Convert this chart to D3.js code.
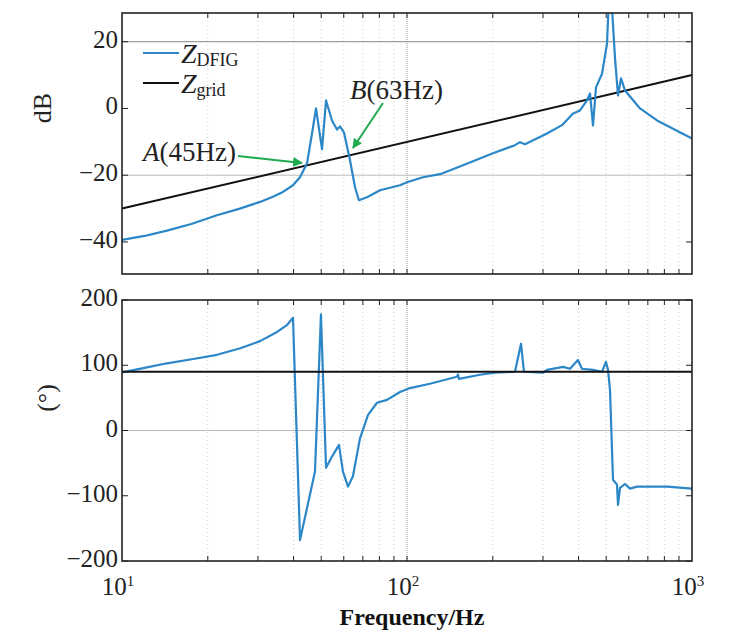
<!DOCTYPE html>
<html>
<head>
<meta charset="utf-8">
<script src="https://cdn.jsdelivr.net/npm/d3@7"></script>
<style>
  body { margin: 0; background: #fff; }
  svg { font-family: "Liberation Serif", "DejaVu Serif", serif; }
</style>
</head>
<body>
<svg width="748" height="641"></svg>
<script>
// частоты и амплитуда Z_DFIG (дБ)
const freqMag = [10, 12, 14.38, 17.5, 21.54, 25.9, 30.5, 34, 36.7, 39.8, 42.13, 44.6, 46.42, 47.94, 50.33, 51.99,
  54.56, 56.8, 58.2, 60.1, 63.1, 65.7, 67.8, 72.4, 80.4, 94.5, 100, 113.8, 130.6, 157.2, 200.3,
  239.3, 249.2, 259.4, 309.8, 349.9, 382.4, 404.6, 428, 438.7, 449.4, 460.4, 483.4, 503.2,
  515.6, 536.9, 550, 563.5, 582, 657, 754, 1000];
const magDFIG = [-39.4, -38.2, -36.6, -34.6, -32, -30, -28, -26.4, -25, -23, -20.6, -16.4, -7.5, 0, -12.2, 2.4,
  -3.6, -6.3, -5.4, -7.2, -15.5, -23.6, -27.5, -26.6, -24.5, -23, -22.1, -20.6, -19.7, -17, -13.4,
  -11, -10.1, -10.7, -7.5, -5, -1.5, -0.6, 2.4, 4.5, -5.1, 6.3, 10.4, 19.4,
  40, 15, 3.9, 9, 5.4, 0, -3.6, -9];

// частоты и фаза Z_DFIG (градусы)
const freqPhase = [10, 12, 14.38, 18, 21.54, 26, 30.5, 35, 38, 39.81, 42.13, 47.55, 49.9, 51.99, 54.56, 57.72,
  59.6, 62.1, 64.6, 68.4, 73.0, 78.5, 85.1, 94.5, 102.4, 120.4, 149.7, 151, 152.2, 180.4, 203.6,
  239.3, 251.2, 257.3, 300, 309.8, 352.7, 373.3, 398, 411, 449.4, 483.4, 499, 507.4, 515.6, 528.2,
  545.6, 550, 559, 582, 606, 641, 817, 1000];
const phaseDFIG = [89, 96, 103, 110, 116, 126, 137, 151, 162, 172.7, -168, -63, 178, -57, -40, -22,
  -63, -86, -70, -12, 24, 42.5, 47, 59, 65, 71.6, 82.3, 86, 79, 85.4, 88.5,
  90, 133, 90, 88.5, 93, 97.6, 94.6, 108, 94.6, 93, 90, 105, 93, 62, -75.5,
  -83, -114, -88, -82, -89, -86, -86, -89];

// Z_grid
const freqGrid = [10, 1000];
const magGrid = [-30, 10];
const phaseGrid = [90, 90];

const magTicks = [20, 0, -20, -40];
const phaseTicks = [200, 100, 0, -100, -200];
const decadeTicks = [10, 100, 1000];

const svg = d3.select("svg");
const blue = "#2b87c8", green = "#1faa50";
const x0 = 122, x1 = 692;

const scX = d3.scaleLog().domain([10, 1000]).range([x0, x1]);
const scMag = d3.scaleLinear().domain([-49.6, 28.6]).range([274, 13]);
const scPh = d3.scaleLinear().domain([-200, 200]).range([561, 300]);

// малые деления логарифмической оси
let minor = [];
[10, 100].forEach(d => { for (let k = 2; k <= 9; k++) minor.push(d * k); });

svg.append("defs").append("clipPath").attr("id", "clipTop")
  .append("rect").attr("x", x0).attr("y", 13).attr("width", x1 - x0).attr("height", 261);
svg.select("defs").append("marker").attr("id", "arr")
  .attr("viewBox", "0 0 10 10").attr("refX", 9).attr("refY", 5)
  .attr("markerWidth", 5).attr("markerHeight", 5).attr("orient", "auto")
  .append("path").attr("d", "M0,0 L10,5 L0,10 z").attr("fill", green);

function panel(scY, ticks, hLines) {
  const [yb, yt] = scY.range();
  const g = svg.append("g");
  g.selectAll(".vg").data(minor.concat([100])).enter().append("line")
    .attr("x1", d => scX(d)).attr("x2", d => scX(d)).attr("y1", yt).attr("y2", yb)
    .attr("stroke", d => d === 100 ? "#999" : "#ccc")
    .attr("stroke-dasharray", d => d === 100 ? "1,1" : "1,3").attr("stroke-width", 1);
  g.selectAll(".hg").data(hLines).enter().append("line")
    .attr("x1", x0).attr("x2", x1).attr("y1", d => scY(d.v)).attr("y2", d => scY(d.v))
    .attr("stroke", d => d.c).attr("stroke-width", 1);
  // деления по X (сверху и снизу, внутрь)
  const xt = minor.concat([100]);
  g.selectAll(".xtb").data(xt).enter().append("line")
    .attr("x1", d => scX(d)).attr("x2", d => scX(d)).attr("y1", yb).attr("y2", yb - 5)
    .attr("stroke", "#222");
  g.selectAll(".xtt").data(xt).enter().append("line")
    .attr("x1", d => scX(d)).attr("x2", d => scX(d)).attr("y1", yt).attr("y2", yt + 5)
    .attr("stroke", "#222");
  // деления по Y
  g.selectAll(".ytl").data(ticks).enter().append("line")
    .attr("x1", x0).attr("x2", x0 + 6).attr("y1", d => scY(d)).attr("y2", d => scY(d))
    .attr("stroke", "#222");
  g.selectAll(".ytr").data(ticks).enter().append("line")
    .attr("x1", x1).attr("x2", x1 - 6).attr("y1", d => scY(d)).attr("y2", d => scY(d))
    .attr("stroke", "#222");
  g.selectAll(".ylab").data(ticks).enter().append("text")
    .attr("x", x0 - 4).attr("y", d => scY(d) + 6)
    .attr("text-anchor", "end").attr("font-size", 25).attr("fill", "#222")
    .text(d => d < 0 ? "\u2212" + Math.abs(d) : d);
  return g;
}

function frame(scY) {
  const [yb, yt] = scY.range();
  svg.append("rect").attr("x", x0).attr("y", yt).attr("width", x1 - x0).attr("height", yb - yt)
    .attr("fill", "none").attr("stroke", "#222").attr("stroke-width", 1.6);
}

panel(scMag, magTicks, [{v: 20, c: "#888"}, {v: -20, c: "#bbb"}]);
panel(scPh, phaseTicks, [{v: 0, c: "#bbb"}]);

const lineMag = d3.line().x(d => scX(d[0])).y(d => scMag(d[1]));
const linePh = d3.line().x(d => scX(d[0])).y(d => scPh(d[1]));

svg.append("path").datum(d3.zip(freqGrid, magGrid)).attr("d", lineMag)
  .attr("fill", "none").attr("stroke", "#111").attr("stroke-width", 2);
svg.append("path").datum(d3.zip(freqMag, magDFIG)).attr("d", lineMag)
  .attr("clip-path", "url(#clipTop)")
  .attr("fill", "none").attr("stroke", blue).attr("stroke-width", 2.2).attr("stroke-linejoin", "round");

svg.append("path").datum(d3.zip(freqPhase, phaseDFIG)).attr("d", linePh)
  .attr("fill", "none").attr("stroke", blue).attr("stroke-width", 2.2).attr("stroke-linejoin", "round");
svg.append("path").datum(d3.zip(freqGrid, phaseGrid)).attr("d", linePh)
  .attr("fill", "none").attr("stroke", "#111").attr("stroke-width", 2);

frame(scMag);
frame(scPh);

// подписи оси X: 10^1, 10^2, 10^3
const xl = svg.append("g").selectAll("text").data(decadeTicks).enter().append("text")
  .attr("x", d => scX(d) - 4).attr("y", 595).attr("text-anchor", "middle")
  .attr("font-size", 25).attr("fill", "#222");
xl.append("tspan").text("10");
xl.append("tspan").attr("dy", -9).attr("font-size", 15).text(d => Math.round(Math.log10(d)));

svg.append("text").attr("x", 412).attr("y", 625).attr("text-anchor", "middle")
  .attr("font-size", 24).attr("font-weight", "bold").attr("fill", "#111").text("Frequency/Hz");

svg.append("text").attr("transform", "translate(51,108) rotate(-90)").attr("text-anchor", "middle")
  .attr("font-size", 26).attr("fill", "#222").text("dB");
svg.append("text").attr("transform", "translate(55,398) rotate(-90)").attr("text-anchor", "middle")
  .attr("font-size", 26).attr("fill", "#222").text("(°)");

// легенда
const leg = [{c: blue, sub: "DFIG", y: 53}, {c: "#111", sub: "grid", y: 83}];
leg.forEach(d => {
  svg.append("line").attr("x1", 143).attr("x2", 179).attr("y1", d.y).attr("y2", d.y)
    .attr("stroke", d.c).attr("stroke-width", 2);
  const t = svg.append("text").attr("x", 181).attr("y", d.y + 10).attr("font-size", 28).attr("fill", "#222");
  t.append("tspan").attr("font-style", "italic").text("Z");
  t.append("tspan").attr("dy", 3).attr("font-size", 18).text(d.sub);
});

// аннотации A и B
const notes = [
  {letter: "A", rest: "(45Hz)", x: 143, y: 161, from: [238, 156], to: [302, 163]},
  {letter: "B", rest: "(63Hz)", x: 350, y: 99, from: [383, 103], to: [353, 148]}
];
notes.forEach(d => {
  const t = svg.append("text").attr("x", d.x).attr("y", d.y).attr("font-size", 27).attr("fill", "#222");
  t.append("tspan").attr("font-style", "italic").text(d.letter);
  t.append("tspan").text(d.rest);
  svg.append("line").attr("x1", d.from[0]).attr("y1", d.from[1]).attr("x2", d.to[0]).attr("y2", d.to[1])
    .attr("stroke", green).attr("stroke-width", 2).attr("marker-end", "url(#arr)");
});
</script>
</body>
</html>
